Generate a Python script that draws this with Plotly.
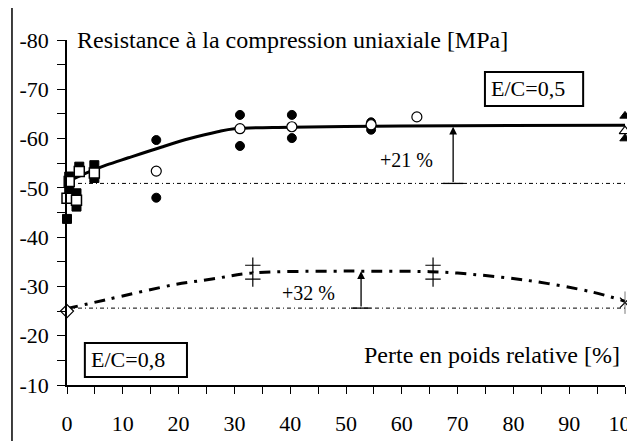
import plotly.graph_objects as go

# ---------------- data ----------------
x_tickvals = [0, 10, 20, 30, 40, 50, 60, 70, 80, 90, 100]
x_ticktext = ["0", "10", "20", "30", "40", "50", "60", "70", "80", "90", "100"]
y_tickvals = [-80, -70, -60, -50, -40, -30, -20, -10]
y_ticktext = ["-80", "-70", "-60", "-50", "-40", "-30", "-20", "-10"]

# E/C = 0,5
sq_filled_x = [0, 0.4, 0.4, 1.7, 1.7, 2.2, 4.9, 4.9]
sq_filled_y = [-43.7, -49.6, -52.3, -48.9, -46.2, -54.3, -54.6, -52.0]
sq_open_x = [0, 0.4, 1.7, 2.2, 4.9]
sq_open_y = [-47.9, -51.3, -47.5, -53.3, -53.0]
circ_filled_x = [16, 16, 31, 31, 40.3, 40.3, 54.5, 54.5]
circ_filled_y = [-59.7, -48.0, -64.8, -58.5, -64.8, -60.1, -63.3, -61.8]
circ_open_x = [16, 31, 40.3, 54.5, 62.7]
circ_open_y = [-53.4, -62.0, -62.4, -62.8, -64.4]
tri_filled_x = [100, 100]
tri_filled_y = [-64.6, -60.0]
tri_open_x = [100]
tri_open_y = [-61.5]
fit05_x = [0, 3, 7, 11, 17, 22, 27, 30, 40, 55, 70, 100]
fit05_y = [-51.2, -52.8, -54.6, -56.1, -58.3, -60.0, -61.4, -62.0, -62.3, -62.5, -62.6, -62.7]
base05_x = [0, 100]
base05_y = [-50.9, -50.9]

# E/C = 0,8
diam_x = [0]
diam_y = [-25.0]
plus_x = [33.3, 33.3, 65.6, 65.6]
plus_y = [-34.3, -31.5, -34.3, -31.5]
star_x = [100]
star_y = [-26.7]
fit08_x = [0, 7, 19, 26, 33, 49, 53, 65, 70, 82, 94, 100]
fit08_y = [-25.5, -27.3, -30.3, -31.5, -32.7, -33.1, -33.1, -33.0, -32.7, -31.3, -28.9, -27.0]
base08_x = [0, 100]
base08_y = [-25.6, -25.6]

# annotation positions
arrow05 = dict(x=69.2, y_from=-50.9, y_to=-62.4)
arrow08 = dict(x=52.7, y_from=-25.6, y_to=-33.1)
label21 = dict(x=60.9, y=-55.7, text="+21 %")
label32 = dict(x=43.2, y=-28.7, text="+32 %")
title_pos = dict(x=1.4, y=-80.0)
xlabel_pos = dict(x=99.5, y=-16.1)
box05 = dict(x0=74.9, x1=92.5, y0=-73.5, y1=-66.6, tx=75.6, ty=-70.1, text="E/C=0,5")
box08 = dict(x0=3.2, x1=21.5, y0=-18.5, y1=-11.6, tx=3.9, ty=-15.1, text="E/C=0,8")

FONT = "Liberation Serif, Times New Roman, serif"

fig = go.Figure()

def line_trace(x, y, width, dash, shape="linear"):
    fig.add_trace(go.Scatter(x=x, y=y, mode="lines", line=dict(color="black", width=width, dash=dash, shape=shape),
                             showlegend=False, hoverinfo="skip"))

def marker_trace(x, y, symbol, size, fill, lw=1.5, lc="black"):
    fig.add_trace(go.Scatter(x=x, y=y, mode="markers", cliponaxis=False,
                             marker=dict(symbol=symbol, size=size, color=fill, line=dict(color=lc, width=lw)),
                             showlegend=False, hoverinfo="skip"))

# baselines
line_trace(base05_x, base05_y, 1, "4px,3px,1px,3px")
line_trace(base08_x, base08_y, 1, "4px,3px,1px,3px")
# fitted curves
line_trace(fit05_x, fit05_y, 3, "solid", "spline")
line_trace(fit08_x, fit08_y, 3, "11px,7px,3px,7px", "spline")

# markers
marker_trace(sq_filled_x, sq_filled_y, "square", 9, "black", 1)
marker_trace(sq_open_x, sq_open_y, "square", 10, "white", 1.5)
marker_trace(circ_filled_x, circ_filled_y, "circle", 9, "black", 1)
marker_trace(circ_open_x, circ_open_y, "circle", 10, "white", 1.2)
marker_trace(tri_filled_x, tri_filled_y, "triangle-up", 9, "black", 1)
marker_trace(tri_open_x, tri_open_y, "triangle-up", 10, "white", 1.2)
marker_trace(diam_x, diam_y, "diamond", 10, "white", 1.2)
marker_trace(plus_x, plus_y, "cross-thin", 11, "black", 1.2)
marker_trace(star_x, star_y, "x-thin", 10, "black", 1.2)
marker_trace(star_x, star_y, "line-ns", 16, "black", 0.8, "#555555")

annotations = []
for a in (arrow05, arrow08):
    annotations.append(dict(x=a["x"], y=a["y_to"], ax=a["x"], ay=a["y_from"], xref="x", yref="y",
                            axref="x", ayref="y", showarrow=True, arrowhead=2, arrowsize=1.2,
                            arrowwidth=1.3, arrowcolor="black", text="", standoff=0))
for l in (label21, label32):
    annotations.append(dict(x=l["x"], y=l["y"], text=l["text"], showarrow=False, xref="x", yref="y",
                            font=dict(family=FONT, size=20, color="black")))
annotations.append(dict(x=title_pos["x"], y=title_pos["y"], text="Resistance à la compression uniaxiale [MPa]",
                        showarrow=False, xref="x", yref="y", xanchor="left", yanchor="middle",
                        font=dict(family=FONT, size=24, color="black")))
annotations.append(dict(x=xlabel_pos["x"], y=xlabel_pos["y"], text="Perte en poids relative [%]",
                        showarrow=False, xref="x", yref="y", xanchor="right", yanchor="middle",
                        font=dict(family=FONT, size=24, color="black")))
shapes = []
for b in (box05, box08):
    shapes.append(dict(type="rect", xref="x", yref="y", x0=b["x0"], x1=b["x1"], y0=b["y0"], y1=b["y1"],
                       line=dict(color="black", width=2), fillcolor="white", layer="above"))
    annotations.append(dict(x=b["tx"], y=b["ty"], text=b["text"], showarrow=False, xref="x", yref="y",
                            xanchor="left", yanchor="middle", font=dict(family=FONT, size=22, color="black")))
# T-bars at arrow bases
for a in (arrow05, arrow08):
    shapes.append(dict(type="line", xref="x", yref="y", x0=a["x"] - 1.8, x1=a["x"] + 1.8,
                       y0=a["y_from"], y1=a["y_from"], line=dict(color="black", width=1.3)))
# outer chart frame (page has an 8px body margin; figure sized to fill the window)
shapes.append(dict(type="rect", xref="paper", yref="paper", x0=-0.0986, x1=1.05, y0=-0.25, y1=1.0986,
                   line=dict(color="black", width=1.5), layer="below"))

fig.update_layout(
    width=627, height=433,
    margin=dict(l=59, r=10, t=32, b=56, autoexpand=False),
    paper_bgcolor="white", plot_bgcolor="white",
    showlegend=False,
    annotations=annotations, shapes=shapes,
    font=dict(family=FONT, size=22, color="black"),
)
fig.update_xaxes(range=[0, 100], tickvals=x_tickvals, ticktext=x_ticktext, ticks="outside", ticklen=7,
                 tickwidth=1.2, tickcolor="black", showline=True, linecolor="black", linewidth=1.5,
                 showgrid=False, zeroline=False, ticklabelstandoff=11, ticklabeloverflow="allow",
                 automargin=False,
                 minor=dict(dtick=5, tick0=0, ticks="outside", ticklen=7, tickwidth=1.2, tickcolor="black"),
                 tickfont=dict(family=FONT, size=22, color="black"))
fig.update_yaxes(range=[-10, -80], tickvals=y_tickvals, ticktext=y_ticktext, ticks="outside", ticklen=8,
                 tickwidth=1.2, tickcolor="black", showline=True, linecolor="black", linewidth=1.5,
                 showgrid=False, zeroline=False, ticklabelstandoff=4, automargin=False,
                 minor=dict(dtick=5, tick0=-80, ticks="outside", ticklen=8, tickwidth=1.2, tickcolor="black"),
                 tickfont=dict(family=FONT, size=22, color="black"))

fig.write_html("out.html")
